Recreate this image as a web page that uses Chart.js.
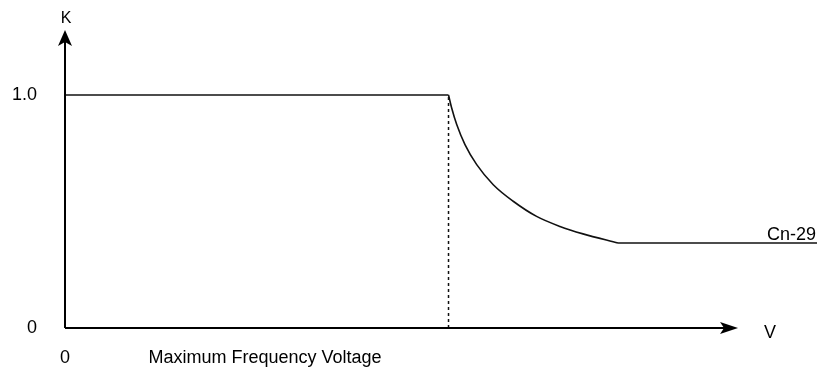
<!DOCTYPE html>
<html>
<head>
<meta charset="utf-8">
<script src="https://cdn.jsdelivr.net/npm/chart.js@4.4.1/dist/chart.umd.min.js"></script>
<style>
  html, body { margin: 0; padding: 0; background: #fff; }
  #wrap { width: 817px; height: 368px; }
</style>
</head>
<body>
<div id="wrap"><canvas id="kChart"></canvas></div>
<script>
// K vs V data (V in arbitrary units, 0..100 across the plot)
const flatV = [0, 51];
const flatK = [1.0, 1.0];
const curveV = [51, 51.42, 52.09, 53.19, 54.75, 56.95, 59.6, 62.71, 65.82, 68.88, 73.54];
const curveK = [1.0, 0.944, 0.873, 0.787, 0.701, 0.615, 0.544, 0.479, 0.436, 0.404, 0.365];
const tailV = [73.54, 100];
const tailK = [0.365, 0.365];
const markerV = [51, 51];
const markerK = [0, 1.0];

const yTicks = [0, 1.0];
const yTickLabels = ["0", "1.0"];
const xTicks = [0, 26.6];
const xTickLabels = ["0", "Maximum Frequency Voltage"];

const FONT = "'Liberation Sans', Arial, Helvetica, sans-serif";
const toPoints = (xs, ys) => xs.map((x, i) => ({ x: x, y: ys[i] }));

// Draws arrowed axes and the free labels (K, V, Cn-29)
const axesPlugin = {
    id: "arrowAxes",
    afterDraw(chart) {
        const { ctx, chartArea, scales } = chart;
        const x0 = scales.x.getPixelForValue(0);
        const y0 = scales.y.getPixelForValue(0);
        const xEnd = scales.x.getPixelForValue(89.5);
        const yTop = chartArea.top;

        ctx.save();
        ctx.strokeStyle = "#000";
        ctx.fillStyle = "#000";
        ctx.lineWidth = 2;
        ctx.beginPath();
        ctx.moveTo(x0, y0);
        ctx.lineTo(x0, yTop + 6);
        ctx.moveTo(x0, y0);
        ctx.lineTo(xEnd - 6, y0);
        ctx.stroke();

        // y arrow head
        ctx.beginPath();
        ctx.moveTo(x0, yTop);
        ctx.lineTo(x0 - 7, yTop + 16);
        ctx.lineTo(x0, yTop + 12);
        ctx.lineTo(x0 + 7, yTop + 16);
        ctx.closePath();
        ctx.fill();

        // x arrow head
        ctx.beginPath();
        ctx.moveTo(xEnd, y0);
        ctx.lineTo(xEnd - 18, y0 - 6);
        ctx.lineTo(xEnd - 14, y0);
        ctx.lineTo(xEnd - 18, y0 + 6);
        ctx.closePath();
        ctx.fill();

        ctx.font = "16px " + FONT;
        ctx.textAlign = "center";
        ctx.textBaseline = "middle";
        ctx.fillText("K", x0 + 1, yTop - 11);

        ctx.font = "18px " + FONT;
        ctx.fillText("V", xEnd + 32, y0 + 5);

        ctx.textAlign = "right";
        ctx.textBaseline = "alphabetic";
        ctx.fillText("Cn-29", chartArea.right - 1, scales.y.getPixelForValue(0.365) - 3);
        ctx.restore();
    }
};

const lineStyle = {
    borderColor: "#111",
    borderWidth: 1.6,
    pointRadius: 0,
    fill: false
};

new Chart(document.getElementById("kChart"), {
    type: "line",
    data: {
        datasets: [
            Object.assign({ label: "flat", data: toPoints(flatV, flatK), tension: 0 }, lineStyle),
            Object.assign({ label: "Cn-29", data: toPoints(curveV, curveK), cubicInterpolationMode: "monotone" }, lineStyle),
            Object.assign({ label: "tail", data: toPoints(tailV, tailK), tension: 0 }, lineStyle),
            Object.assign({ label: "marker", data: toPoints(markerV, markerK), tension: 0 }, lineStyle, { borderDash: [3, 3], borderWidth: 1.5 })
        ]
    },
    options: {
        responsive: true,
        maintainAspectRatio: false,
        animation: false,
        layout: { padding: { top: 30, left: 0, right: 0, bottom: 0 } },
        plugins: {
            legend: { display: false },
            tooltip: { enabled: false }
        },
        scales: {
            x: {
                type: "linear",
                min: 0,
                max: 100,
                grid: { display: false, drawTicks: false },
                border: { display: false },
                afterBuildTicks: (scale) => { scale.ticks = xTicks.map(v => ({ value: v })); },
                afterFit: (scale) => { scale.height = 40; },
                ticks: {
                    autoSkip: false,
                    maxRotation: 0,
                    padding: 19,
                    color: "#000",
                    font: { family: FONT, size: 18 },
                    callback: (value, index) => xTickLabels[index]
                }
            },
            y: {
                type: "linear",
                min: 0,
                max: 1.279,
                grid: { display: false, drawTicks: false },
                border: { display: false },
                afterBuildTicks: (scale) => { scale.ticks = yTicks.map(v => ({ value: v })); },
                afterFit: (scale) => {
                    scale.width = 65;
                    // tick padding would otherwise push the plot top down
                    scale.paddingTop = 0;
                    scale.paddingBottom = 0;
                },
                ticks: {
                    padding: 28,
                    color: "#000",
                    font: { family: FONT, size: 18 },
                    callback: (value, index) => yTickLabels[index]
                }
            }
        }
    },
    plugins: [axesPlugin]
});
</script>
</body>
</html>
